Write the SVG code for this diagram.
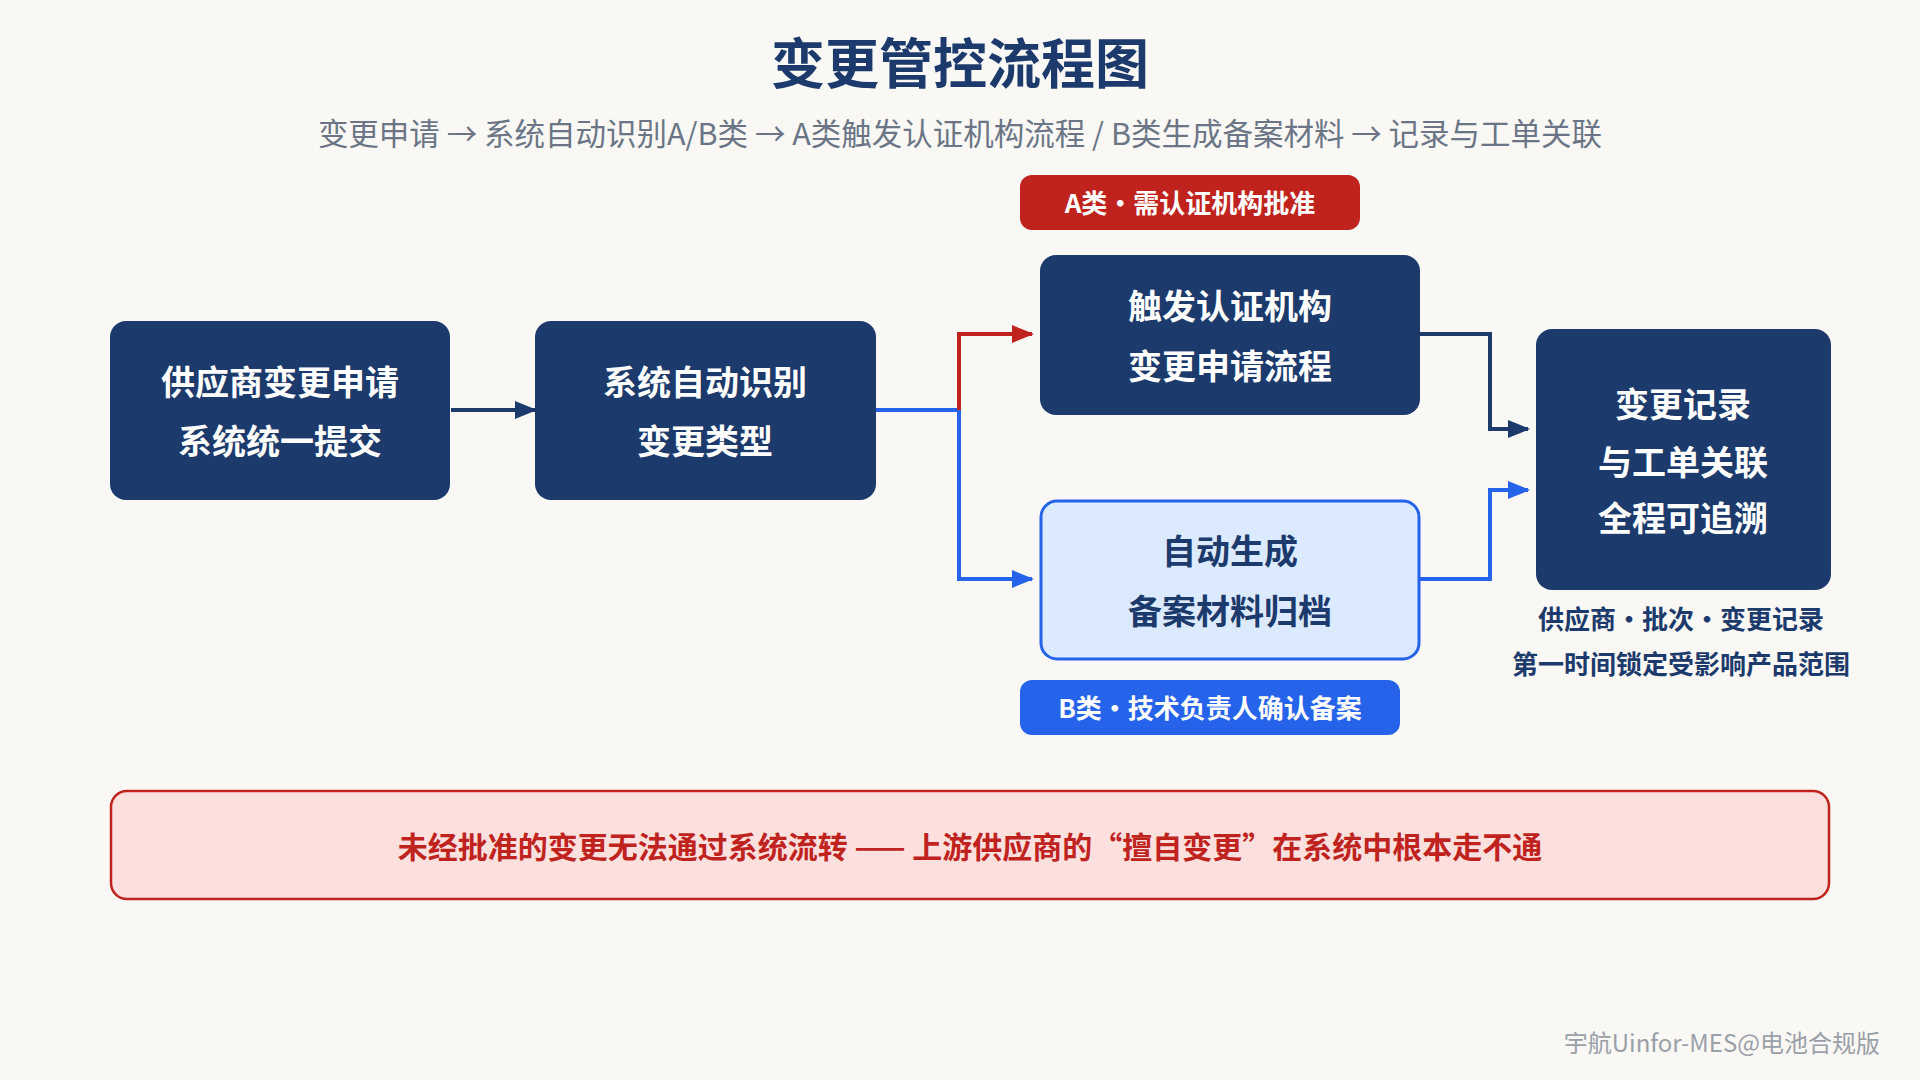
<svg xmlns="http://www.w3.org/2000/svg" width="1920" height="1080" viewBox="0 0 1920 1080">
<defs>
<style>
text{font-family:"Noto Sans CJK SC","Noto Sans",sans-serif;text-anchor:middle}
.nt{fill:#fff;font-size:34px;font-weight:700}
.dark{fill:#1c3a6c}
.ln{fill:none;stroke-width:4}
</style>
<marker id="an" markerWidth="22" markerHeight="22" refX="20" refY="11" orient="auto" markerUnits="userSpaceOnUse" viewBox="0 0 22 22"><path d="M0,2L22,11L0,20z" fill="#1c3a6c"/></marker>
<marker id="ab" markerWidth="22" markerHeight="22" refX="20" refY="11" orient="auto" markerUnits="userSpaceOnUse" viewBox="0 0 22 22"><path d="M0,2L22,11L0,20z" fill="#2563eb"/></marker>
<marker id="ar" markerWidth="22" markerHeight="22" refX="20" refY="11" orient="auto" markerUnits="userSpaceOnUse" viewBox="0 0 22 22"><path d="M0,2L22,11L0,20z" fill="#c0231e"/></marker>
</defs>
<rect width="1920" height="1080" fill="#f9f8f5"/>
<text x="960" y="84" font-size="54" font-weight="700" fill="#1c3a6c">变更管控流程图</text>
<text x="960" y="145" font-size="30.5" fill="#6b7585">变更申请 → 系统自动识别A/B类 → A类触发认证机构流程 / B类生成备案材料 → 记录与工单关联</text>
<g id="connectors">
<path class="ln" stroke="#1c3a6c" d="M451,410H535" marker-end="url(#an)" stroke-width="5"/>
<path class="ln" stroke="#2563eb" d="M876,410H959V579H1032" marker-end="url(#ab)"/>
<path class="ln" stroke="#c0231e" d="M959,410V334H1032" marker-end="url(#ar)"/>
<path class="ln" stroke="#1c3a6c" d="M1420,334H1490V429H1528" marker-end="url(#an)"/>
<path class="ln" stroke="#2563eb" d="M1419,579H1490V490H1528" marker-end="url(#ab)"/>
</g>
<g id="n1"><rect x="110" y="321" width="340" height="179" rx="16" class="dark"/><text class="nt" x="280" y="395">供应商变更申请</text><text class="nt" x="280" y="454">系统统一提交</text></g>
<g id="n2"><rect x="535" y="321" width="341" height="179" rx="16" class="dark"/><text class="nt" x="705" y="395">系统自动识别</text><text class="nt" x="705" y="454">变更类型</text></g>
<g id="badgeA"><rect x="1020" y="175" width="340" height="55" rx="12" fill="#c0231e"/><text x="1190" y="213" font-size="26" font-weight="700" fill="#fff">A类・需认证机构批准</text></g>
<g id="n3"><rect x="1040" y="255" width="380" height="160" rx="16" class="dark"/><text class="nt" x="1230" y="319">触发认证机构</text><text class="nt" x="1230" y="379">变更申请流程</text></g>
<g id="n4"><rect x="1041" y="501" width="378" height="158" rx="16" fill="#dbeafe" stroke="#2563eb" stroke-width="3"/><text class="nt" style="fill:#1c3a6c" x="1230" y="564">自动生成</text><text class="nt" style="fill:#1c3a6c" x="1230" y="624">备案材料归档</text></g>
<g id="badgeB"><rect x="1020" y="680" width="380" height="55" rx="12" fill="#2563eb"/><text x="1210" y="718" font-size="26" font-weight="700" fill="#fff">B类・技术负责人确认备案</text></g>
<g id="n5"><rect x="1536" y="329" width="295" height="261" rx="16" class="dark"/><text class="nt" x="1683" y="417">变更记录</text><text class="nt" x="1683" y="475">与工单关联</text><text class="nt" x="1683" y="531">全程可追溯</text>
<text x="1681" y="629" font-size="26" font-weight="700" fill="#1c3a6c">供应商・批次・变更记录</text><text x="1681" y="674" font-size="26" font-weight="700" fill="#1c3a6c">第一时间锁定受影响产品范围</text></g>
<g id="banner"><rect x="111" y="791" width="1718" height="108" rx="16" fill="#fbe0de" stroke="#c0231e" stroke-width="2.5"/><text x="970" y="858" font-size="30" font-weight="700" fill="#c0231e">未经批准的变更无法通过系统流转 —— 上游供应商的“擅自变更”在系统中根本走不通</text></g>
<text x="1880" y="1052" font-size="24" fill="#9aa0a8" style="text-anchor:end">宇航Uinfor-MES@电池合规版</text>
</svg>
